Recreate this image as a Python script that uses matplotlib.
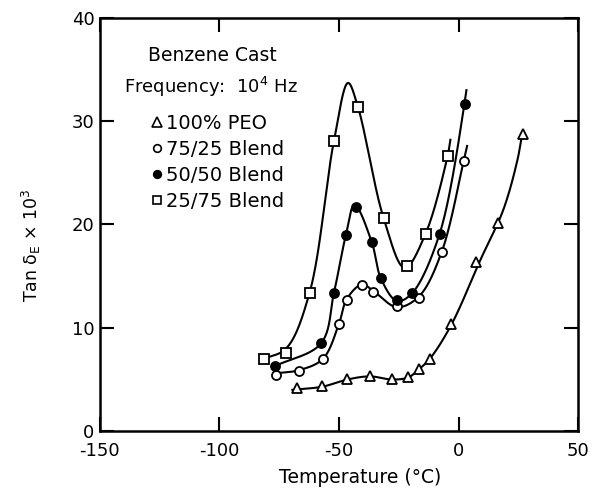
import numpy as np
import matplotlib.pyplot as plt

# measured points (temperature in C, tan delta x 10^3)
peo_t = [-67.5, -57, -46.5, -37, -28, -21, -16.5, -12, -3, 7.5, 16.5, 27]
peo_v = [4.2, 4.4, 5.0, 5.3, 5.0, 5.2, 6.0, 7.0, 10.4, 16.4, 20.1, 28.8]

b75_t = [-76.3, -66.7, -56.7, -50, -46.7, -40.4, -35.8, -25.8, -16.7, -7.1, 2.1]
b75_v = [5.4, 5.8, 7.0, 10.4, 12.7, 14.1, 13.5, 12.1, 12.9, 17.3, 26.1]

b50_t = [-76.7, -57.5, -52.1, -47.1, -42.9, -36.3, -32.5, -25.8, -19.6, -7.9, 2.5]
b50_v = [6.3, 8.5, 13.4, 19.0, 21.7, 18.3, 14.8, 12.7, 13.4, 19.1, 31.7]

b25_t = [-81.3, -72.1, -62.3, -52.1, -42.1, -31.3, -21.7, -13.8, -4.6]
b25_v = [7.0, 7.6, 13.4, 28.1, 31.4, 20.6, 16.0, 19.1, 26.6]

# hand drawn guide curves
peo_ct = [-69.5, -57, -46.5, -37, -28, -21, -16.5, -12, -3, 9.2, 18.7, 24.6, 26.5]
peo_cv = [4.0, 4.3, 5.0, 5.3, 5.0, 5.2, 6.0, 7.0, 10.3, 16.6, 21.4, 26.2, 28.6]
b75_ct = [-76.3, -66.7, -56.7, -50, -46.7, -40.4, -35.8, -25.8, -16.7, -7.1, 2.1, 3.6]
b75_cv = [5.6, 5.9, 7.0, 10.4, 12.8, 14.2, 13.6, 12.0, 13.0, 17.3, 26.1, 27.6]
b50_ct = [-76.7, -57.5, -52.1, -47.1, -43.5, -36.3, -32.5, -25.8, -19.6, -7.9, 2.5, 3.3]
b50_cv = [6.3, 8.5, 13.4, 19.0, 21.9, 18.3, 14.8, 12.6, 13.3, 19.1, 31.7, 33.0]
b25_ct = [-81.3, -72.1, -62.3, -52.1, -46.2, -42.1, -31.3, -22.5, -13.8, -4.6, -3.4]
b25_cv = [7.0, 8.0, 13.4, 28.1, 33.7, 31.4, 20.6, 15.8, 19.1, 26.6, 28.2]


def smooth(xs, ys, n=40):
    # centripetal catmull-rom through the traced points
    p = np.column_stack([np.array(xs) / 200.0, np.array(ys) / 40.0 * 0.86])
    p = np.vstack([2 * p[0] - p[1], p, 2 * p[-1] - p[-2]])
    out = []
    for i in range(1, len(p) - 2):
        p0, p1, p2, p3 = p[i - 1], p[i], p[i + 1], p[i + 2]
        t0 = 0.0
        t1 = t0 + np.linalg.norm(p1 - p0) ** 0.5
        t2 = t1 + np.linalg.norm(p2 - p1) ** 0.5
        t3 = t2 + np.linalg.norm(p3 - p2) ** 0.5
        t = np.linspace(t1, t2, n)[:, None]
        a1 = (t1 - t) / (t1 - t0) * p0 + (t - t0) / (t1 - t0) * p1
        a2 = (t2 - t) / (t2 - t1) * p1 + (t - t1) / (t2 - t1) * p2
        a3 = (t3 - t) / (t3 - t2) * p2 + (t - t2) / (t3 - t2) * p3
        b1 = (t2 - t) / (t2 - t0) * a1 + (t - t0) / (t2 - t0) * a2
        b2 = (t3 - t) / (t3 - t1) * a2 + (t - t1) / (t3 - t1) * a3
        c = (t2 - t) / (t2 - t1) * b1 + (t - t1) / (t2 - t1) * b2
        out.append(c)
    out = np.vstack(out)
    return out[:, 0] * 200.0, out[:, 1] * 40.0 / 0.86


plt.rcParams['font.family'] = 'DejaVu Sans'
plt.rcParams['axes.unicode_minus'] = False
fig = plt.figure(figsize=(6.13, 4.95), dpi=100)
ax = fig.add_axes([0.163, 0.129, 0.78, 0.835])

series = [
    (peo_ct, peo_cv, peo_t, peo_v, '^', 'white', 7.5, '100% PEO'),
    (b75_ct, b75_cv, b75_t, b75_v, 'o', 'white', 6.5, '75/25 Blend'),
    (b50_ct, b50_cv, b50_t, b50_v, 'o', 'black', 6.5, '50/50 Blend'),
    (b25_ct, b25_cv, b25_t, b25_v, 's', 'white', 7, '25/75 Blend'),
]
handles = []
for ct, cv, t, v, m, fc, ms, lab in series:
    sx, sy = smooth(ct, cv)
    ax.plot(sx, sy, color='black', lw=1.5, zorder=2)
    ax.plot(t, v, ls='none', marker=m, ms=ms, mfc=fc, mec='black', mew=1.3, zorder=3)
    h, = ax.plot([], [], ls='none', marker=m, ms=ms - 1, mfc=fc, mec='black', mew=1.2, label=lab)
    handles.append(h)

ax.set_xlim(-150, 50)
ax.set_ylim(0, 40)
ax.set_xticks([-150, -100, -50, 0, 50])
ax.set_yticks([0, 10, 20, 30, 40])
ax.tick_params(direction='in', length=10, width=1.5, labelsize=13, top=True, right=True)
ax.tick_params(axis='x', pad=8)
ax.tick_params(axis='y', pad=4)
for s in ax.spines.values():
    s.set_linewidth(1.8)

ax.set_xlabel('Temperature (°C)', fontsize=13.5)
ax.xaxis.set_label_coords(0.545, -0.088)
ax.set_ylabel('Tan δ$_{\\mathrm{E}}$ × 10$^{3}$', fontsize=12.5)
ax.yaxis.set_label_coords(-0.12, 0.45)

ax.text(-130, 36.4, 'Benzene Cast', fontsize=13.5, ha='left', va='center')
ax.text(-140, 33.3, 'Frequency:  10$^{4}$ Hz', fontsize=13, ha='left', va='center')
leg = ax.legend(handles=handles, loc='upper left', bbox_to_anchor=(0.08, 0.80),
                frameon=False, fontsize=14, handlelength=0.5, handletextpad=0.25,
                labelspacing=0.35, borderpad=0.2)

fig.savefig('out.png', dpi=100)
